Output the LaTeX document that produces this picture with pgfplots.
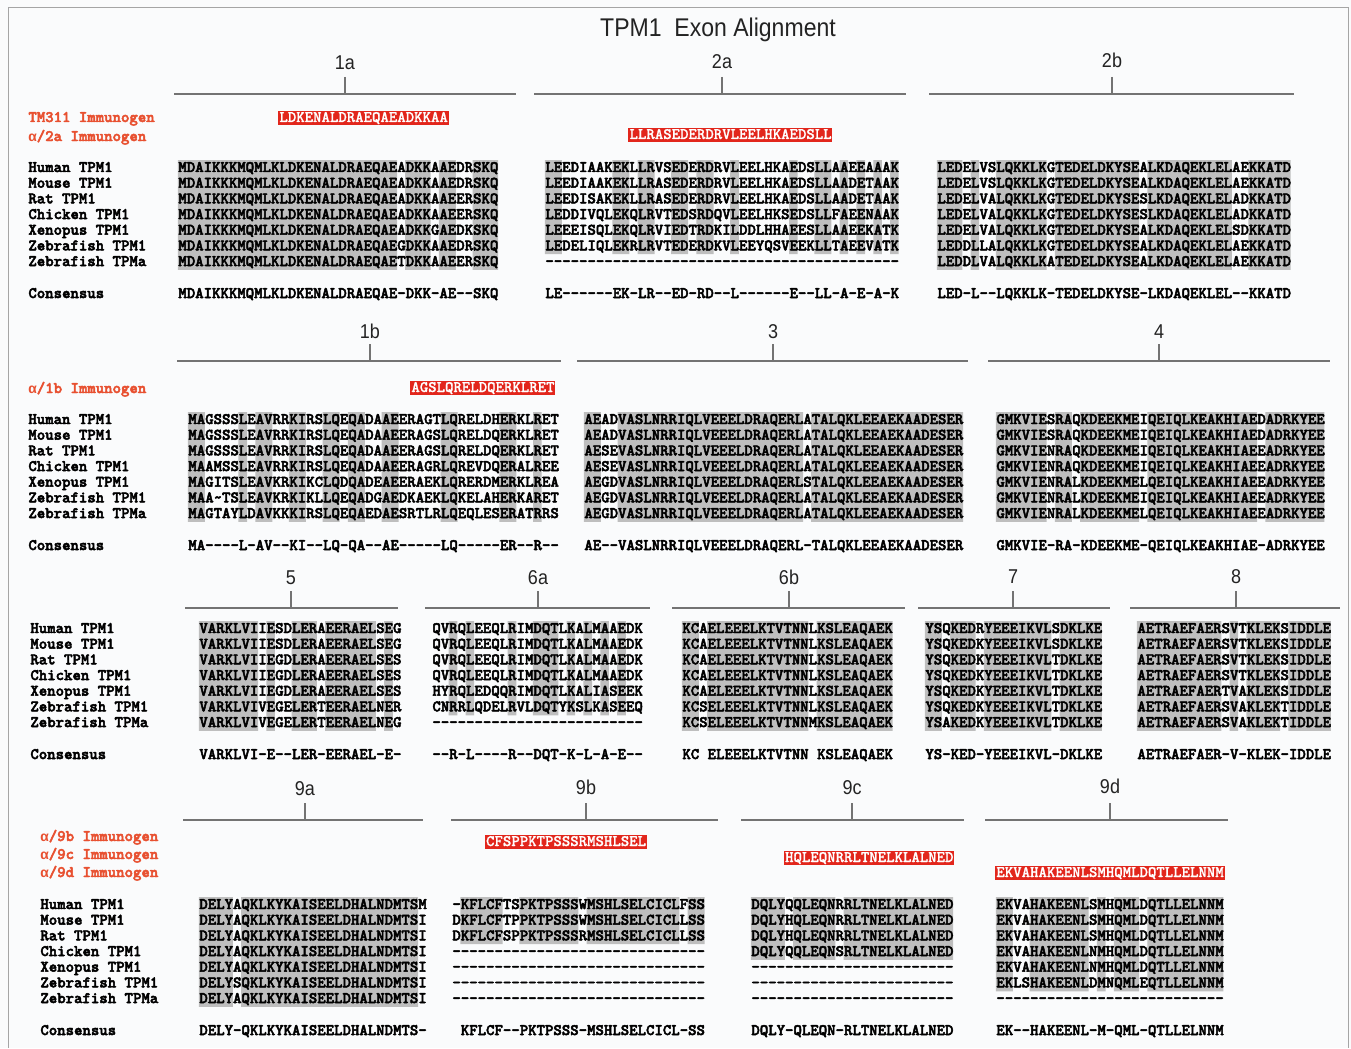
\documentclass[border=0pt]{standalone}
\usepackage{pgfplots}
\pgfplotsset{compat=1.18}
\usepackage{fontspec}
\setmainfont{Liberation Sans}
\newfontfamily\altmono{Liberation Mono}
\newfontfamily\seqmono{lmmonolt10-bold}[Extension=.otf, FakeBold=3]
\newfontfamily\boxmono{lmmonolt10-bold}[Extension=.otf, FakeBold=1]
\newfontfamily\titlefont[FakeStretch=0.9]{Liberation Sans}
\definecolor{seqgray}{RGB}{190,190,190}
\definecolor{immred}{RGB}{232,80,48}
\definecolor{boxred}{RGB}{226,38,28}
\definecolor{linegray}{RGB}{115,115,115}
\definecolor{titlegray}{RGB}{35,35,35}
\definecolor{bgcol}{RGB}{250,251,252}
\definecolor{framegray}{RGB}{165,165,165}
\newcommand\seqfont{\seqmono\fontsize{8.019}{9}\selectfont}
\newcommand\boxfont{\boxmono\fontsize{8.019}{9}\selectfont}
\newcommand\alphachar{{\altmono\bfseries\fontsize{7}{8}\selectfont α}}
\newcommand\sqrect[4]{(axis cs:#1,#2) rectangle (axis cs:#3,#4) }
\newcommand\sqpathfill[2]{\fill[#1] #2;}
\newcommand\txtat[4][black]{\node[anchor=base west,inner sep=0pt,font=\seqfont,text=#1] at (axis cs:#2,#3) {#4};}
\newcommand\boxtxt[3]{\node[anchor=base west,inner sep=0pt,font=\boxfont,text=white] at (axis cs:#1,#2) {#3};}
\newcommand\exonlab[3]{\node[anchor=base,inner sep=0pt,font={\titlefont\fontsize{10}{12}\selectfont},text=titlegray] at (axis cs:#1,#2) {#3};}
\ExplSyntaxOn
\int_new:N \l_sq_row_int
\int_new:N \l_sq_start_int
\bool_new:N \l_sq_shade_bool
\tl_new:N \l_sq_a_tl
\tl_new:N \l_sq_b_tl
\tl_new:N \l_sq_y_tl
\tl_new:N \l_sq_path_tl
\tl_new:N \l_sq_cons_tl
\fp_const:Nn \c_sq_pitch_fp {8.42}
\fp_const:Nn \c_sq_row_fp {15.67}
\cs_new_protected:Npn \sq_close_run:nnn #1#2#3
 {
  \tl_put_right:Nx \l_sq_path_tl { \sqrect
     { \fp_eval:n { #1 + (\l_sq_start_int - 1) * \c_sq_pitch_fp - 0.1 } }
     { \fp_eval:n { #2 - 7.9 } }
     { \fp_eval:n { #1 + (#3) * \c_sq_pitch_fp + 0.1 } }
     { \fp_eval:n { #2 + 7.9 } } }
  \int_zero:N \l_sq_start_int
 }
\cs_new_protected:Npn \seqblock #1#2#3#4
 {
  \tl_clear:N \l_sq_path_tl
  \int_zero:N \l_sq_row_int
  \clist_map_inline:nn {#3}
   {
    \tl_set:Nx \l_sq_y_tl { \fp_eval:n { #2 + \l_sq_row_int * \c_sq_row_fp } }
    \int_zero:N \l_sq_start_int
    \int_step_inline:nn { \str_count:n {##1} }
     {
      \tl_set:Nx \l_sq_a_tl { \str_item:nn {##1} {####1} }
      \tl_set:Nx \l_sq_b_tl { \str_item:nn {#4} {####1} }
      \bool_set_false:N \l_sq_shade_bool
      \str_if_eq:VVT \l_sq_a_tl \l_sq_b_tl
        { \str_if_eq:VnF \l_sq_b_tl {-} { \bool_set_true:N \l_sq_shade_bool } }
      \bool_if:NTF \l_sq_shade_bool
       { \int_compare:nNnT \l_sq_start_int = 0 { \int_set:Nn \l_sq_start_int {####1} } }
       { \int_compare:nNnF \l_sq_start_int = 0 { \sq_close_run:nnn {#1} {\l_sq_y_tl} {####1 - 1} } }
     }
    \int_compare:nNnF \l_sq_start_int = 0
      { \sq_close_run:nnn {#1} {\l_sq_y_tl} { \str_count:n {##1} } }
    \int_incr:N \l_sq_row_int
   }
  \tl_if_empty:NF \l_sq_path_tl
   { \use:x { \exp_not:N \sqpathfill {seqgray} { \exp_not:V \l_sq_path_tl } } }
  \int_zero:N \l_sq_row_int
  \clist_map_inline:nn {#3}
   {
    \use:x { \exp_not:N \txtat {#1}
       { \fp_eval:n { #2 + \l_sq_row_int * \c_sq_row_fp + 4 } }
       { \tl_to_str:n {##1} } }
    \int_incr:N \l_sq_row_int
   }
  \tl_set:Nx \l_sq_cons_tl { \tl_to_str:n {#4} }
  \tl_replace_all:Nnn \l_sq_cons_tl {.} {\hphantom{A}}
  \use:x { \exp_not:N \txtat {#1}
       { \fp_eval:n { #2 + 6 * \c_sq_row_fp + 32 + 4 } }
       { \exp_not:V \l_sq_cons_tl } }
 }
\cs_new_protected:Npn \immbox #1#2#3
 {
  \use:x { \exp_not:N \sqpathfill {boxred} { \sqrect
     { \fp_eval:n { #1 - 1.2 } } { \fp_eval:n { #2 - 7.4 } }
     { \fp_eval:n { #1 + \str_count:n {#3} * \c_sq_pitch_fp + 1.2 } } { \fp_eval:n { #2 + 7.4 } } } }
  \use:x { \exp_not:N \boxtxt {#1} { \fp_eval:n { #2 + 4 } } { \tl_to_str:n {#3} } }
 }
\cs_new_protected:Npn \namecol #1#2
 {
  \int_zero:N \l_sq_row_int
  \clist_map_inline:nn {Human~TPM1,Mouse~TPM1,Rat~TPM1,Chicken~TPM1,Xenopus~TPM1,Zebrafish~TPM1,Zebrafish~TPMa}
   {
    \use:x { \exp_not:N \txtat {#1} { \fp_eval:n { #2 + \l_sq_row_int * \c_sq_row_fp + 4 } } {\exp_not:n{##1}} }
    \int_incr:N \l_sq_row_int
   }
  \use:x { \exp_not:N \txtat {#1} { \fp_eval:n { #2 + 6 * \c_sq_row_fp + 32 + 4 } } {Consensus} }
 }
\ExplSyntaxOff
\begin{document}
\begin{tikzpicture}
\begin{axis}[
  x=0.5pt, y=0.5pt,
  xmin=0, xmax=1351, ymin=0, ymax=1048,
  y dir=reverse,
  hide axis,
  scale only axis,
  clip=false,
]
\pgfplotsextra{\fill[bgcol] (axis cs:0,0) rectangle (axis cs:1351,1048);}
\addplot[framegray, line width=0.5pt] coordinates {(8,1048) (8,8) (1348,8) (1348,1048)};
\addplot[linegray, line width=0.7pt] coordinates {(174,94) (516,94)};
\addplot[linegray, line width=0.7pt] coordinates {(345,77) (345,94)};
\addplot[linegray, line width=0.7pt] coordinates {(534,94) (906,94)};
\addplot[linegray, line width=0.7pt] coordinates {(722,77) (722,94)};
\addplot[linegray, line width=0.7pt] coordinates {(929,94) (1294,94)};
\addplot[linegray, line width=0.7pt] coordinates {(1112,77) (1112,94)};
\addplot[linegray, line width=0.7pt] coordinates {(177,361) (561,361)};
\addplot[linegray, line width=0.7pt] coordinates {(370,344) (370,361)};
\addplot[linegray, line width=0.7pt] coordinates {(577,361) (968,361)};
\addplot[linegray, line width=0.7pt] coordinates {(773,344) (773,361)};
\addplot[linegray, line width=0.7pt] coordinates {(988,361) (1330,361)};
\addplot[linegray, line width=0.7pt] coordinates {(1159,344) (1159,361)};
\addplot[linegray, line width=0.7pt] coordinates {(185,608) (398,608)};
\addplot[linegray, line width=0.7pt] coordinates {(291,591) (291,608)};
\addplot[linegray, line width=0.7pt] coordinates {(425,608) (650,608)};
\addplot[linegray, line width=0.7pt] coordinates {(538,591) (538,608)};
\addplot[linegray, line width=0.7pt] coordinates {(672,608) (905,608)};
\addplot[linegray, line width=0.7pt] coordinates {(789,591) (789,608)};
\addplot[linegray, line width=0.7pt] coordinates {(918,608) (1110,608)};
\addplot[linegray, line width=0.7pt] coordinates {(1013,591) (1013,608)};
\addplot[linegray, line width=0.7pt] coordinates {(1130,608) (1340,608)};
\addplot[linegray, line width=0.7pt] coordinates {(1236,591) (1236,608)};
\addplot[linegray, line width=0.7pt] coordinates {(183,820) (423,820)};
\addplot[linegray, line width=0.7pt] coordinates {(305,803) (305,820)};
\addplot[linegray, line width=0.7pt] coordinates {(451,820) (718,820)};
\addplot[linegray, line width=0.7pt] coordinates {(586,803) (586,820)};
\addplot[linegray, line width=0.7pt] coordinates {(741,820) (964,820)};
\addplot[linegray, line width=0.7pt] coordinates {(852,803) (852,820)};
\addplot[linegray, line width=0.7pt] coordinates {(985,820) (1228,820)};
\addplot[linegray, line width=0.7pt] coordinates {(1110,803) (1110,820)};
\pgfplotsextra{%
\node[anchor=base,inner sep=0pt,font={\titlefont\fontsize{12.8}{14}\selectfont},text=titlegray] at (axis cs:718,37) {TPM1\ \ Exon Alignment};
\exonlab{345}{70}{1a}\exonlab{722}{69}{2a}\exonlab{1112}{68}{2b}
\exonlab{370}{338}{1b}\exonlab{773}{338}{3}\exonlab{1159}{338}{4}
\exonlab{291}{584}{5}\exonlab{538}{584}{6a}\exonlab{789}{584}{6b}\exonlab{1013}{583}{7}\exonlab{1236}{583}{8}
\exonlab{305}{795}{9a}\exonlab{586}{794}{9b}\exonlab{852}{794}{9c}\exonlab{1110}{793}{9d}
\txtat[immred]{28}{122}{TM311 Immunogen}
\txtat[immred]{28}{141}{\makebox[4.21pt]{\alphachar}/2a Immunogen}
\txtat[immred]{28}{393}{\makebox[4.21pt]{\alphachar}/1b Immunogen}
\txtat[immred]{40}{841}{\makebox[4.21pt]{\alphachar}/9b Immunogen}
\txtat[immred]{40}{859}{\makebox[4.21pt]{\alphachar}/9c Immunogen}
\txtat[immred]{40}{877}{\makebox[4.21pt]{\alphachar}/9d Immunogen}
\immbox{279.04}{118}{LDKENALDRAEQAEADKKAA}
\immbox{629.2}{135}{LLRASEDERDRVLEELHKAEDSLL}
\immbox{411}{388}{AGSLQRELDQERKLRET}
\immbox{485.7}{842}{CFSPPKTPSSSRMSHLSEL}
\immbox{784.7}{858}{HQLEQNRRLTNELKLALNED}
\immbox{996}{873}{EKVAHAKEENLSMHQMLDQTLLELNNM}
\namecol{28}{168}\namecol{28}{420}\namecol{30}{629}\namecol{40}{905}
\seqblock{178}{168}{MDAIKKKMQMLKLDKENALDRAEQAEADKKAAEDRSKQ,
MDAIKKKMQMLKLDKENALDRAEQAEADKKAAEDRSKQ,
MDAIKKKMQMLKLDKENALDRAEQAEADKKAAEERSKQ,
MDAIKKKMQMLKLDKENALDRAEQAEADKKAAEERSKQ,
MDAIKKKMQMLKLDKENALDRAEQAEADKKGAEDKSKQ,
MDAIKKKMQMLKLDKENALDRAEQAEGDKKAAEDRSKQ,
MDAIKKKMQMLKLDKENALDRAEQAETDKKAAEERSKQ}{MDAIKKKMQMLKLDKENALDRAEQAE-DKK-AE--SKQ}
\seqblock{545}{168}{LEEDIAAKEKLLRVSEDERDRVLEELHKAEDSLLAAEEAAAK,
LEEDIAAKEKLLRASEDERDRVLEELHKAEDSLLAADETAAK,
LEEDISAKEKLLRASEDERDRVLEELHKAEDSLLAADETAAK,
LEDDIVQLEKQLRVTEDSRDQVLEELHKSEDSLLFAEENAAK,
LEEEISQLEKQLRVIEDTRDKILDDLHHAEESLLAAEEKATK,
LEDELIQLEKRLRVTEDERDKVLEEYQSVEEKLLTAEEVATK,
------------------------------------------}{LE------EK-LR--ED-RD--L------E--LL-A-E-A-K}
\seqblock{937}{168}{LEDELVSLQKKLKGTEDELDKYSEALKDAQEKLELAEKKATD,
LEDELVSLQKKLKGTEDELDKYSEALKDAQEKLELAEKKATD,
LEDELVALQKKLKGTEDELDKYSESLKDAQEKLELADKKATD,
LEDELVALQKKLKGTEDELDKYSESLKDAQEKLELADKKATD,
LEDELVALQKKLKGTEDELDKYSEALKDAQEKLELSDKKATD,
LEDDLLALQKKLKGTEDELDKYSEALKDAQEKLELAEKKATD,
LEDDLVALQKKLKATEDELDKYSEALKDAQEKLELAEKKATD}{LED-L--LQKKLK-TEDELDKYSE-LKDAQEKLEL--KKATD}
\seqblock{188}{420}{MAGSSSLEAVRRKIRSLQEQADAAEERAGTLQRELDHERKLRET,
MAGSSSLEAVRRKIRSLQEQADAAEERAGSLQRELDQERKLRET,
MAGSSSLEAVRRKIRSLQEQADAAEERAGSLQRELDQERKLRET,
MAAMSSLEAVRRKIRSLQEQADAAEERAGRLQREVDQERALREE,
MAGITSLEAVKRKIKCLQDQADEAEERAEKLQRERDMERKLREA,
MAA~TSLEAVKRKIKLLQEQADGAEDKAEKLQKELAHERKARET,
MAGTAYLDAVKKKIRSLQEQAEDAESRTLRLQEQLESERATRRS}{MA----L-AV--KI--LQ-QA--AE-----LQ-----ER--R--}
\seqblock{584}{420}{AEADVASLNRRIQLVEEELDRAQERLATALQKLEEAEKAADESER,
AEADVASLNRRIQLVEEELDRAQERLATALQKLEEAEKAADESER,
AESEVASLNRRIQLVEEELDRAQERLATALQKLEEAEKAADESER,
AESEVASLNRRIQLVEEELDRAQERLATALQKLEEAEKAADESER,
AEGDVASLNRRIQLVEEELDRAQERLSTALQKLEEAEKAADESER,
AEGDVASLNRRIQLVEEELDRAQERLATALQKLEEAEKAADESER,
AEGDVASLNRRIQLVEEELDRAQERLATALQKLEEAEKAADESER}{AE--VASLNRRIQLVEEELDRAQERL-TALQKLEEAEKAADESER}
\seqblock{996}{420}{GMKVIESRAQKDEEKMEIQEIQLKEAKHIAEDADRKYEE,
GMKVIESRAQKDEEKMEIQEIQLKEAKHIAEDADRKYEE,
GMKVIENRAQKDEEKMEIQEIQLKEAKHIAEEADRKYEE,
GMKVIENRAQKDEEKMEIQEIQLKEAKHIAEEADRKYEE,
GMKVIENRALKDEEKMELQEIQLKEAKHIAEEADRKYEE,
GMKVIENRALKDEEKMEIQEIQLKEAKHIAEEADRKYEE,
GMKVIENRALKDEEKMELQEIQLKEAKHIAEEADRKYEE}{GMKVIE-RA-KDEEKME-QEIQLKEAKHIAE-ADRKYEE}
\seqblock{199}{629}{VARKLVIIESDLERAEERAELSEG,
VARKLVIIESDLERAEERAELSEG,
VARKLVIIEGDLERAEERAELSES,
VARKLVIIEGDLERAEERAELSES,
VARKLVIIEGDLERAEERAELSES,
VARKLVIVEGELERTEERAELNER,
VARKLVIVEGELERTEERAELNEG}{VARKLVI-E--LER-EERAEL-E-}
\seqblock{432}{629}{QVRQLEEQLRIMDQTLKALMAAEDK,
QVRQLEEQLRIMDQTLKALMAAEDK,
QVRQLEEQLRIMDQTLKALMAAEDK,
QVRQLEEQLRIMDQTLKALMAAEDK,
HYRQLEDQQRIMDQTLKALIASEEK,
CNRRLQDELRVLDQTYKSLKASEEQ,
-------------------------}{--R-L----R--DQT-K-L-A-E--}
\seqblock{682}{629}{KCAELEEELKTVTNNLKSLEAQAEK,
KCAELEEELKTVTNNLKSLEAQAEK,
KCAELEEELKTVTNNLKSLEAQAEK,
KCAELEEELKTVTNNLKSLEAQAEK,
KCAELEEELKTVTNNLKSLEAQAEK,
KCSELEEELKTVTNNLKSLEAQAEK,
KCSELEEELKTVTNNMKSLEAQAEK}{KC.ELEEELKTVTNN.KSLEAQAEK}
\seqblock{925}{629}{YSQKEDRYEEEIKVLSDKLKE,
YSQKEDKYEEEIKVLSDKLKE,
YSQKEDKYEEEIKVLTDKLKE,
YSQKEDKYEEEIKVLTDKLKE,
YSQKEDKYEEEIKVLTDKLKE,
YSQKEDKYEEEIKVLTDKLKE,
YSAKEDKYEEEIKVLTDKLKE}{YS-KED-YEEEIKVL-DKLKE}
\seqblock{1137}{629}{AETRAEFAERSVTKLEKSIDDLE,
AETRAEFAERSVTKLEKSIDDLE,
AETRAEFAERSVTKLEKSIDDLE,
AETRAEFAERSVTKLEKSIDDLE,
AETRAEFAERTVAKLEKSIDDLE,
AETRAEFAERSVAKLEKTIDDLE,
AETRAEFAERSVAKLEKTIDDLE}{AETRAEFAER-V-KLEK-IDDLE}
\seqblock{199}{905}{DELYAQKLKYKAISEELDHALNDMTSM,
DELYAQKLKYKAISEELDHALNDMTSI,
DELYAQKLKYKAISEELDHALNDMTSI,
DELYAQKLKYKAISEELDHALNDMTSI,
DELYAQKLKYKAISEELDHALNDMTSI,
DELYSQKLKYKAISEELDHALNDMTSI,
DELYAQKLKYKAISEELDHALNDMTSI}{DELY-QKLKYKAISEELDHALNDMTS-}
\seqblock{452}{905}{-KFLCFTSPKTPSSSWMSHLSELCICLFSS,
DKFLCFTPPKTPSSSWMSHLSELCICLLSS,
DKFLCFSPPKTPSSSRMSHLSELCICLLSS,
------------------------------,
------------------------------,
------------------------------,
------------------------------}{.KFLCF--PKTPSSS-MSHLSELCICL-SS}
\seqblock{751}{905}{DQLYQQLEQNRRLTNELKLALNED,
DQLYHQLEQNRRLTNELKLALNED,
DQLYHQLEQNRRLTNELKLALNED,
DQLYQQLEQNSRLTNELKLALNED,
------------------------,
------------------------,
------------------------}{DQLY-QLEQN-RLTNELKLALNED}
\seqblock{996}{905}{EKVAHAKEENLSMHQMLDQTLLELNNM,
EKVAHAKEENLSMHQMLDQTLLELNNM,
EKVAHAKEENLSMHQMLDQTLLELNNM,
EKVAHAKEENLNMHQMLDQTLLELNNM,
EKVAHAKEENLNMHQMLDQTLLELNNM,
EKLSHAKEENLDMNQMLEQTLLELNNM,
---------------------------}{EK--HAKEENL-M-QML-QTLLELNNM}
}
\end{axis}
\end{tikzpicture}
\end{document}
